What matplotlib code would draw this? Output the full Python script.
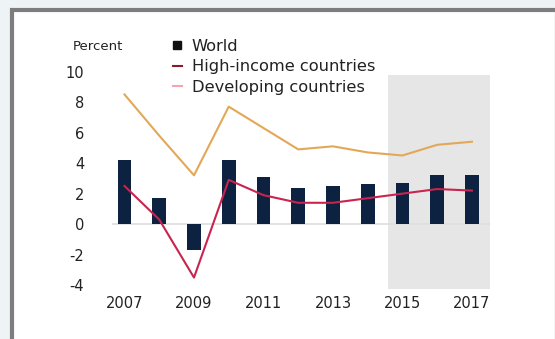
import matplotlib
matplotlib.use('Agg')
import matplotlib.pyplot as plt
from matplotlib.patches import Rectangle
from matplotlib.lines import Line2D

# growth, percent
years = [2007, 2008, 2009, 2010, 2011, 2012, 2013, 2014, 2015, 2016, 2017]
world = [4.2, 1.7, -1.7, 4.2, 3.1, 2.4, 2.5, 2.6, 2.7, 3.2, 3.2]
high_income = [2.5, 0.3, -3.5, 2.9, 1.9, 1.4, 1.4, 1.7, 2.0, 2.3, 2.2]
developing = [8.5, 5.8, 3.2, 7.7, 6.3, 4.9, 5.1, 4.7, 4.5, 5.2, 5.4]
xticks = [2007, 2009, 2011, 2013, 2015, 2017]
yticks = [-4, -2, 0, 2, 4, 6, 8, 10]
forecast_start = 2014.58

plt.rcParams['font.family'] = 'DejaVu Sans'
plt.rcParams['axes.unicode_minus'] = False

fig = plt.figure(figsize=(5.55, 3.39), dpi=100)
fig.patch.set_facecolor('#eef3f6')

# white card with grey frame
fig.patches.append(Rectangle((12/555, -0.05), 545/555, 1 - 10/339 + 0.05,
                             transform=fig.transFigure, facecolor='white',
                             edgecolor='#7d7d7d', linewidth=3, zorder=-1))

ax = fig.add_axes([112/555, 1 - 289/339, 378/555, (289 - 68.5)/339])
ax.set_facecolor('none')
ax.set_xlim(2006.64, 2017.52)
ax.set_ylim(-4.25, 10.2)

ax.axvspan(forecast_start, 2017.52, ymin=0, ymax=(9.8 + 4.25)/14.45,
           color='#e6e6e6', zorder=0, linewidth=0)
ax.axhline(0, color='#dedede', linewidth=1.2, zorder=1)

ax.bar(years, world, width=0.4, color='#0d2240', zorder=2)
ax.plot(years, high_income, color='#c8244f', linewidth=1.5, zorder=3)
ax.plot(years, developing, color='#e3a857', linewidth=1.5, zorder=3)

ax.set_xticks(xticks)
ax.set_yticks(yticks)
ax.tick_params(length=0, labelsize=10.5, colors='#222222')
ax.tick_params(axis='y', pad=20)
ax.tick_params(axis='x', pad=5)
for s in ax.spines.values():
    s.set_visible(False)

fig.text(73/555, 1 - 46/339, 'Percent', fontsize=9.5, color='#222222', va='center')

handles = [Line2D([], [], marker='s', linestyle='none', color='#111111', markersize=6),
           Line2D([], [], color='#8b1a2e', linewidth=1.5),
           Line2D([], [], color='#f2a5b5', linewidth=1.5)]
labels = ['World', 'High-income countries', 'Developing countries']
leg = fig.legend(handles, labels, loc='upper left', bbox_to_anchor=(173/555, 1 - 39/339),
                 frameon=False, fontsize=11.7, handlelength=0.55, handletextpad=0.6,
                 labelspacing=0.33, borderaxespad=0, borderpad=0)
for t in leg.get_texts():
    t.set_color('#222222')

fig.savefig('out.png', dpi=100, facecolor=fig.get_facecolor())
